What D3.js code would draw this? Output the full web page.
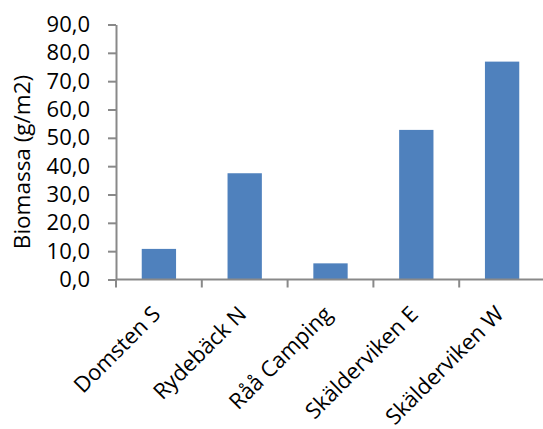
<!DOCTYPE html>
<html>
<head>
<meta charset="utf-8">
<script src="https://cdn.jsdelivr.net/npm/d3@7"></script>
<style>
  html, body { margin: 0; padding: 0; background: #fff; }
  svg { display: block; }
  text { font-family: "Open Sans", sans-serif; fill: #000; }
</style>
</head>
<body>
<svg id="chart" width="543" height="429"></svg>
<script>
// Biomass per site
const sites = ["Domsten S", "Rydebäck N", "Råå Camping", "Skälderviken E", "Skälderviken W"];
const biomass = [10.8, 37.5, 5.7, 52.8, 76.9];
const yTicks = [0, 10, 20, 30, 40, 50, 60, 70, 80, 90];
const yTitle = "Biomassa (g/m2)";

const svg = d3.select("#chart");
const plotLeft = 116, plotRight = 545, plotTop = 24.5, plotBottom = 279.5;
const axisColor = "#898989";
const barColor = "#4F81BD";

const x = d3.scaleBand().domain(sites).range([plotLeft, plotRight]).paddingInner(0.6).paddingOuter(0.3);
const xOuter = d3.scaleBand().domain(sites).range([plotLeft, plotRight]).padding(0);
const y = d3.scaleLinear().domain([0, 90]).range([plotBottom, plotTop]);

const fmt = v => v.toFixed(1).replace(".", ",");

// bars
svg.append("g").selectAll("rect")
  .data(sites)
  .join("rect")
  .attr("x", d => x(d))
  .attr("width", x.bandwidth())
  .attr("y", (d, i) => y(biomass[i]))
  .attr("height", (d, i) => y(0) - y(biomass[i]))
  .attr("fill", barColor);

// y axis
const yAxis = svg.append("g")
  .attr("transform", `translate(${plotLeft},0)`)
  .call(d3.axisLeft(y).tickValues(yTicks).tickFormat(fmt).tickSize(8).tickSizeOuter(0).tickPadding(18));
yAxis.select(".domain").attr("stroke", axisColor).attr("stroke-width", 2);
yAxis.selectAll(".tick line").attr("stroke", axisColor).attr("stroke-width", 2);
yAxis.selectAll(".tick text")
  .attr("font-size", 22)
  .attr("font-family", "Open Sans, sans-serif")
  .attr("fill", "#000");

// x axis: category boundaries as ticks
const xAxisG = svg.append("g").attr("transform", `translate(0,${plotBottom})`);
xAxisG.append("line")
  .attr("x1", plotLeft).attr("x2", 543)
  .attr("stroke", axisColor).attr("stroke-width", 2);
xAxisG.selectAll("line.tk")
  .data(sites)
  .join("line")
  .attr("class", "tk")
  .attr("x1", d => xOuter(d)).attr("x2", d => xOuter(d))
  .attr("y1", 0).attr("y2", 8)
  .attr("stroke", axisColor).attr("stroke-width", 2);

// rotated category labels
svg.append("g").selectAll("text")
  .data(sites)
  .join("text")
  .attr("transform", d => `translate(${x(d) + x.bandwidth() / 2 + 3},${plotBottom + 36}) rotate(-45)`)
  .attr("text-anchor", "end")
  .attr("font-size", 22)
  .text(d => d);

// y axis title
svg.append("text")
  .attr("transform", `translate(30,${(plotTop + plotBottom) / 2 + 10}) rotate(-90)`)
  .attr("text-anchor", "middle")
  .attr("font-size", 22.5)
  .text(yTitle);
</script>
</body>
</html>
